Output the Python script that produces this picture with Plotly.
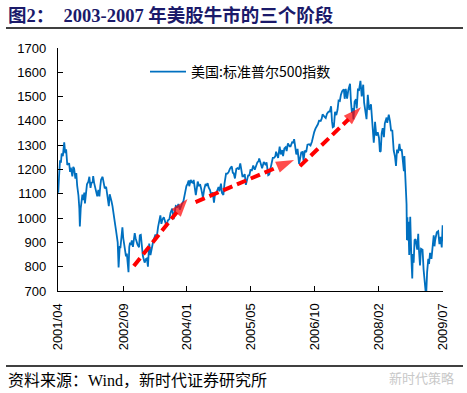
import plotly.graph_objects as go

# ---------------- data ----------------
dates = [
 "2001-04-02","2001-04-04","2001-04-10","2001-04-18","2001-04-25","2001-05-01","2001-05-10","2001-05-21","2001-05-29",
 "2001-06-05","2001-06-14","2001-06-22","2001-06-29","2001-07-06","2001-07-12","2001-07-24","2001-07-31","2001-08-07",
 "2001-08-17","2001-08-24","2001-08-31","2001-09-10","2001-09-17","2001-09-21","2001-09-28","2001-10-05","2001-10-11",
 "2001-10-19","2001-10-26","2001-10-31","2001-11-09","2001-11-16","2001-11-27","2001-12-05","2001-12-14","2001-12-21","2001-12-31",
 "2002-01-04","2002-01-11","2002-01-18","2002-01-29","2002-02-05","2002-02-14","2002-02-22","2002-03-01","2002-03-07",
 "2002-03-19","2002-03-28","2002-04-05","2002-04-16","2002-04-24","2002-05-01","2002-05-07","2002-05-14","2002-05-21",
 "2002-05-29","2002-06-05","2002-06-14","2002-06-20","2002-06-26","2002-07-03","2002-07-10","2002-07-16","2002-07-23",
 "2002-07-26","2002-08-01","2002-08-06","2002-08-14","2002-08-22","2002-08-29","2002-09-04","2002-09-12","2002-09-19",
 "2002-09-26","2002-09-30","2002-10-04","2002-10-09","2002-10-15","2002-10-21","2002-10-28","2002-11-04","2002-11-13",
 "2002-11-21","2002-11-27","2002-12-04","2002-12-12","2002-12-19","2002-12-31",
 "2003-01-06","2003-01-14","2003-01-22","2003-01-30","2003-02-07","2003-02-13","2003-02-24","2003-03-03","2003-03-11",
 "2003-03-17","2003-03-21","2003-03-31","2003-04-07","2003-04-14","2003-04-24","2003-04-30","2003-05-09","2003-05-19",
 "2003-05-30","2003-06-06","2003-06-17","2003-06-25","2003-07-02","2003-07-14","2003-07-24","2003-08-05","2003-08-14",
 "2003-08-27","2003-09-05","2003-09-18","2003-09-30","2003-10-08","2003-10-16","2003-10-28","2003-11-06","2003-11-17",
 "2003-11-28","2003-12-05","2003-12-15","2003-12-24","2003-12-31",
 "2004-01-08","2004-01-16","2004-01-26","2004-01-30","2004-02-11","2004-02-19","2004-02-27","2004-03-05","2004-03-12",
 "2004-03-22","2004-03-31","2004-04-06","2004-04-16","2004-04-26","2004-05-04","2004-05-12","2004-05-17","2004-05-28",
 "2004-06-07","2004-06-17","2004-06-23","2004-07-01","2004-07-12","2004-07-21","2004-08-02","2004-08-12","2004-08-20",
 "2004-08-31","2004-09-08","2004-09-17","2004-09-24","2004-10-06","2004-10-14","2004-10-25","2004-11-03","2004-11-15",
 "2004-11-26","2004-12-06","2004-12-16","2004-12-30",
 "2005-01-07","2005-01-14","2005-01-24","2005-02-04","2005-02-14","2005-02-24","2005-03-07","2005-03-15","2005-03-24",
 "2005-04-01","2005-04-11","2005-04-20","2005-04-29","2005-05-09","2005-05-17","2005-05-26","2005-06-07","2005-06-17",
 "2005-06-29","2005-07-08","2005-07-19","2005-07-29","2005-08-03","2005-08-12","2005-08-26","2005-09-08","2005-09-20",
 "2005-09-30","2005-10-13","2005-10-21","2005-10-31","2005-11-09","2005-11-18","2005-11-30","2005-12-08","2005-12-14","2005-12-30",
 "2006-01-11","2006-01-20","2006-01-31","2006-02-07","2006-02-17","2006-02-27","2006-03-07","2006-03-17","2006-03-31",
 "2006-04-07","2006-04-19","2006-04-28","2006-05-05","2006-05-12","2006-05-22","2006-06-01","2006-06-08","2006-06-13",
 "2006-06-30","2006-07-11","2006-07-18","2006-07-28","2006-08-08","2006-08-18","2006-08-31","2006-09-11","2006-09-22",
 "2006-09-29","2006-10-10","2006-10-20","2006-10-31","2006-11-08","2006-11-17","2006-11-30","2006-12-08","2006-12-15","2006-12-29",
 "2007-01-09","2007-01-19","2007-01-31","2007-02-09","2007-02-20","2007-02-27","2007-03-05","2007-03-14","2007-03-23",
 "2007-04-02","2007-04-12","2007-04-20","2007-04-30","2007-05-08","2007-05-18","2007-05-31","2007-06-07","2007-06-15",
 "2007-06-26","2007-07-05","2007-07-19","2007-07-26","2007-08-03","2007-08-09","2007-08-15","2007-08-24","2007-09-04",
 "2007-09-10","2007-09-19","2007-09-28","2007-10-09","2007-10-19","2007-10-31","2007-11-07","2007-11-15","2007-11-26",
 "2007-12-06","2007-12-17","2007-12-31",
 "2008-01-08","2008-01-15","2008-01-22","2008-01-28","2008-02-01","2008-02-11","2008-02-22","2008-03-03","2008-03-10",
 "2008-03-17","2008-03-24","2008-04-01","2008-04-11","2008-04-18","2008-05-02","2008-05-07","2008-05-19","2008-05-29",
 "2008-06-06","2008-06-16","2008-06-27","2008-07-07","2008-07-15","2008-07-23","2008-07-31","2008-08-11","2008-08-18",
 "2008-08-29","2008-09-05","2008-09-15","2008-09-19","2008-09-29","2008-10-01","2008-10-06","2008-10-09","2008-10-13",
 "2008-10-15","2008-10-20","2008-10-27","2008-11-04","2008-11-12","2008-11-20","2008-11-24","2008-12-01","2008-12-08",
 "2008-12-16","2008-12-29","2008-12-31",
 "2009-01-06","2009-01-09","2009-01-20","2009-01-28","2009-02-09","2009-02-17","2009-02-27","2009-03-05","2009-03-09",
 "2009-03-17","2009-03-26","2009-04-01","2009-04-09","2009-04-20","2009-04-30","2009-05-08","2009-05-14","2009-05-19",
 "2009-06-01","2009-06-12","2009-06-22","2009-07-01","2009-07-10","2009-07-15","2009-07-17","2009-07-20",
]
sp500 = [
 1146,1104,1168,1238,1228,1266,1255,1312,1267,
 1283,1219,1225,1224,1190,1208,1172,1211,1204,
 1162,1185,1134,1093,1039,966,1041,1072,1097,
 1074,1105,1060,1120,1139,1150,1170,1124,1145,1148,
 1173,1146,1128,1100,1090,1116,1089,1132,1158,
 1170,1147,1122,1129,1094,1086,1049,1098,1086,
 1067,1049,1007,1006,973,948,920,900,797,
 852,885,876,919,962,917,894,886,843,
 854,815,800,777,881,899,890,908,882,
 933,938,917,901,891,880,
 929,931,878,845,829,817,832,834,800,
 862,895,848,879,885,911,917,933,921,
 964,988,1011,976,993,1004,981,965,990,
 996,1022,1039,996,1034,1050,1046,1058,1035,
 1058,1061,1069,1095,1112,
 1132,1140,1155,1131,1157,1147,1145,1157,1120,
 1095,1126,1150,1134,1136,1119,1097,1084,1121,
 1140,1133,1144,1126,1115,1094,1106,1064,1099,
 1104,1116,1128,1110,1142,1104,1095,1143,1183,
 1183,1190,1203,1213,
 1186,1185,1163,1203,1206,1200,1225,1198,1172,
 1172,1181,1137,1157,1178,1174,1198,1197,1216,
 1199,1212,1229,1234,1245,1230,1205,1231,1221,
 1229,1177,1180,1207,1220,1248,1249,1255,1273,1248,
 1294,1262,1280,1255,1287,1292,1276,1307,1295,
 1295,1312,1311,1325,1291,1262,1285,1257,1223,
 1270,1272,1236,1278,1272,1302,1304,1299,1314,
 1336,1354,1368,1377,1386,1401,1400,1409,1427,1418,
 1412,1430,1438,1438,1460,1399,1374,1377,1437,
 1424,1447,1484,1482,1507,1522,1530,1491,1532,
 1492,1525,1553,1482,1433,1453,1406,1479,1489,
 1451,1529,1527,1565,1501,1549,1475,1452,1407,
 1507,1445,1468,
 1390,1380,1310,1353,1396,1339,1353,1331,1273,
 1276,1349,1370,1333,1390,1414,1392,1426,1398,
 1361,1360,1278,1253,1215,1282,1267,1305,1278,
 1283,1242,1193,1255,1106,1161,1057,910,1003,
 908,985,848,1005,852,752,852,816,909,
 913,870,903,
 935,890,805,874,870,789,735,683,677,
 778,832,811,857,832,873,929,884,908,
 942,946,893,923,879,932,970,905,
]

series_name = "美国:标准普尔500指数"

# three phase arrows (start -> end)
arrow_start_dates = ["2002-11-20", "2004-03-20", "2006-06-20"]
arrow_start_vals = [803, 1066, 1214]
arrow_end_dates = ["2004-02-10", "2006-06-10", "2007-11-10"]
arrow_end_vals = [1095, 1247, 1470]

tick_dates = ["2001-04-02", "2002-09-01", "2004-01-07", "2005-05-26", "2006-10-13", "2008-02-28", "2009-07-20"]
tick_labels = ["2001/04", "2002/09", "2004/01", "2005/05", "2006/10", "2008/02", "2009/07"]

title_text = "图2：  2003-2007 年美股牛市的三个阶段"
source_text = "资料来源：Wind，新时代证券研究所"
watermark_text = "新时代策略"

# ---------------- figure ----------------
W, H = 467, 393
L, R, T, B = 58, 24, 48, 102
PW, PH = W - L - R, H - T - B


def px_x(x):
    return (x - L) / PW


def px_y(y):
    return (H - B - y) / PH


fig = go.Figure()
fig.add_trace(go.Scatter(
    x=dates, y=sp500, mode="lines", name=series_name,
    line=dict(color="#0070C0", width=1.8), showlegend=True,
))

for sd, sv, ed, ev in zip(arrow_start_dates, arrow_start_vals, arrow_end_dates, arrow_end_vals):
    fig.add_trace(go.Scatter(
        x=[sd, ed], y=[sv, ev], mode="lines+markers", showlegend=False,
        line=dict(color="#FF0000", width=4, dash="10px,5px"),
        marker=dict(symbol=["circle", "arrow"], size=[0, 19], color="#FF0000",
                    angleref="previous", standoff=5, line=dict(width=0)),
        cliponaxis=False,
    ))

axis_font = dict(family="Arial, Liberation Sans, sans-serif", size=13, color="#000000")

fig.update_layout(
    width=W, height=H,
    margin=dict(l=L, r=R, t=T, b=B),
    paper_bgcolor="white", plot_bgcolor="white",
    showlegend=True,
    legend=dict(x=px_x(145), y=px_y(72), xanchor="left", yanchor="middle",
                font=dict(family="Noto Sans CJK SC", size=14, color="#000000"),
                bgcolor="rgba(0,0,0,0)", itemwidth=36),
    xaxis=dict(
        type="date",
        range=["2001-04-02", "2009-07-20"],
        tickvals=tick_dates, ticktext=tick_labels,
        tickangle=-90, tickfont=axis_font,
        ticks="inside", ticklen=5, tickcolor="#000", tickwidth=1,
        showline=True, linecolor="#000", linewidth=1.3,
        showgrid=False, zeroline=False, ticklabelstandoff=6,
    ),
    yaxis=dict(
        range=[700, 1700], tickvals=[700, 800, 900, 1000, 1100, 1200, 1300, 1400, 1500, 1600, 1700],
        tickfont=axis_font,
        ticks="inside", ticklen=5, tickcolor="#000", tickwidth=1,
        showline=True, linecolor="#000", linewidth=1.3,
        showgrid=False, zeroline=False, ticklabelstandoff=8,
    ),
)

# header/footer decorations
fig.add_annotation(xref="paper", yref="paper", x=px_x(6), y=px_y(15),
                   xanchor="left", yanchor="middle", showarrow=False,
                   text="<b>" + title_text + "</b>",
                   font=dict(family="Liberation Serif, Noto Sans CJK SC", size=18.5, color="#1B1A6A"))
fig.add_shape(type="line", xref="paper", yref="paper",
              x0=px_x(6), x1=px_x(463), y0=px_y(28), y1=px_y(28),
              line=dict(color="#000", width=1.5))
fig.add_shape(type="line", xref="paper", yref="paper",
              x0=px_x(6), x1=px_x(463), y0=px_y(366), y1=px_y(366),
              line=dict(color="#000", width=1.5))
fig.add_annotation(xref="paper", yref="paper", x=px_x(6), y=px_y(381),
                   xanchor="left", yanchor="middle", showarrow=False,
                   text=source_text,
                   font=dict(family="Liberation Serif, Noto Sans CJK SC", size=16, color="#000"))
fig.add_annotation(xref="paper", yref="paper", x=px_x(456), y=px_y(377),
                   xanchor="right", yanchor="middle", showarrow=False,
                   text=watermark_text,
                   font=dict(family="Noto Sans CJK SC", size=13, color="#C8C8C8"))

fig.write_html("out.html", config={"displayModeBar": False},
               post_script="document.body.style.margin='0';document.body.style.overflow='hidden';")
